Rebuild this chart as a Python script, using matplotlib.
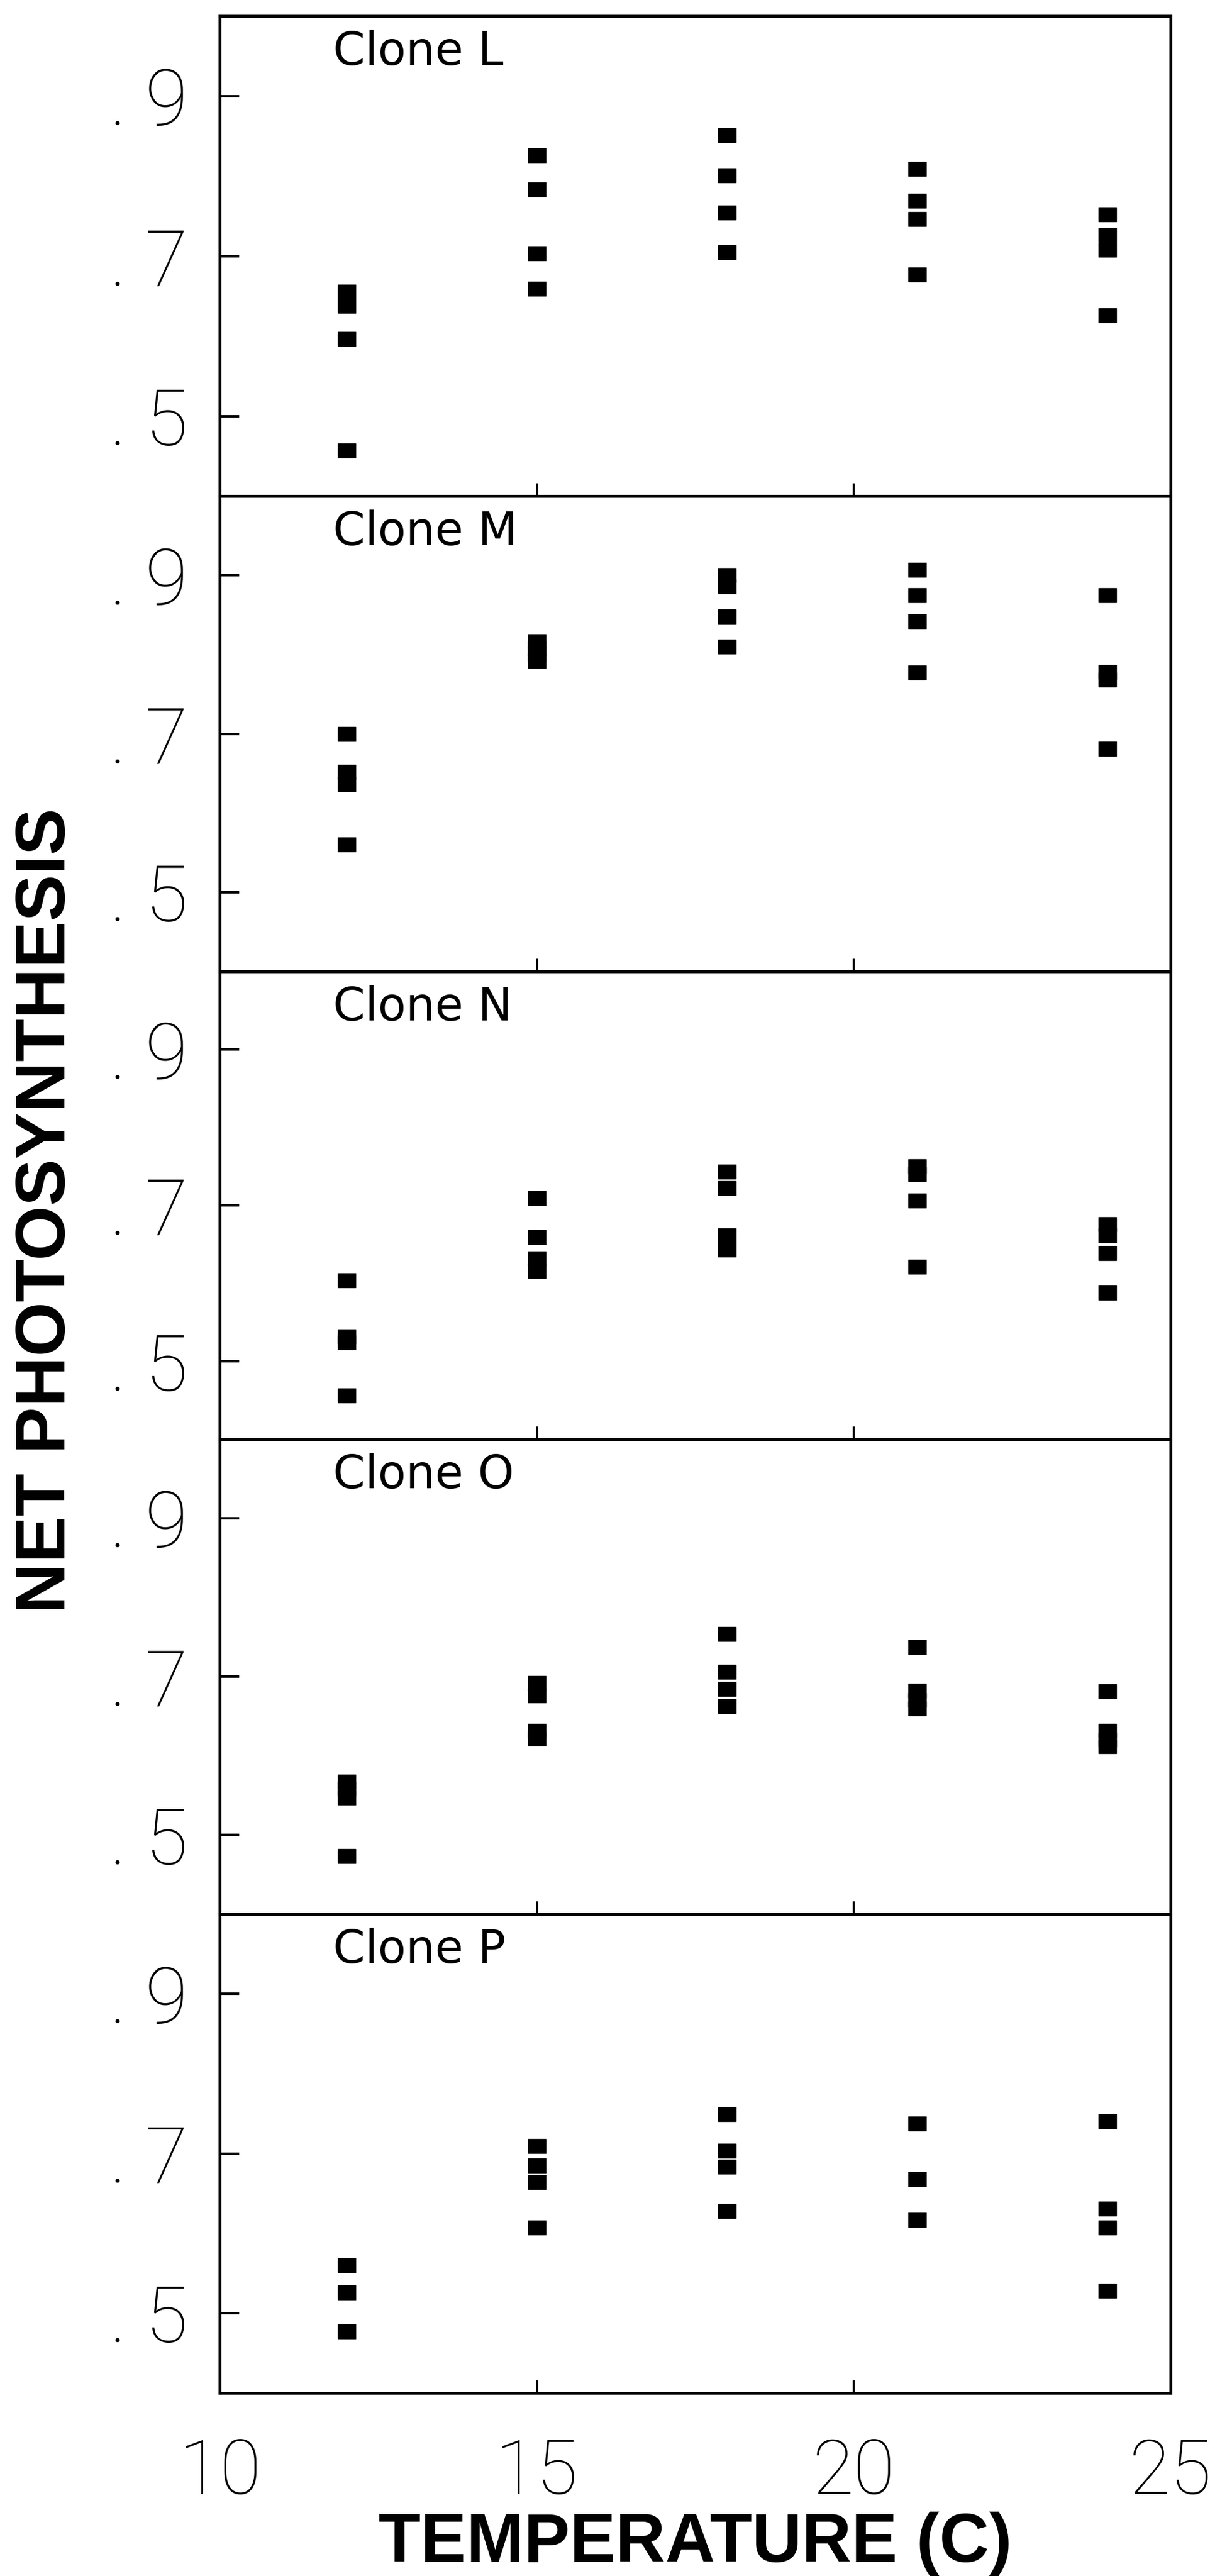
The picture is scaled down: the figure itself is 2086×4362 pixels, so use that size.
import matplotlib
matplotlib.use("Agg")
import matplotlib.pyplot as plt

# temperatures (C) at which each clone was measured
temps = [12, 15, 18, 21, 24]
clone_names = ["Clone L", "Clone M", "Clone N", "Clone O", "Clone P"]

# net photosynthesis replicates, one list per temperature
clone_L = [[0.655, 0.638, 0.596, 0.457],
           [0.826, 0.783, 0.703, 0.659],
           [0.851, 0.801, 0.754, 0.705],
           [0.809, 0.769, 0.746, 0.677],
           [0.752, 0.726, 0.708, 0.626]]
clone_M = [[0.700, 0.652, 0.636, 0.560],
           [0.817, 0.808, 0.800, 0.792],
           [0.900, 0.886, 0.848, 0.810],
           [0.907, 0.875, 0.842, 0.777],
           [0.875, 0.778, 0.768, 0.681]]
clone_N = [[0.604, 0.532, 0.524, 0.456],
           [0.709, 0.659, 0.632, 0.616],
           [0.743, 0.722, 0.661, 0.643],
           [0.750, 0.740, 0.706, 0.621],
           [0.676, 0.661, 0.639, 0.588]]
clone_O = [[0.567, 0.558, 0.547, 0.473],
           [0.692, 0.676, 0.631, 0.622],
           [0.754, 0.706, 0.684, 0.663],
           [0.737, 0.682, 0.670, 0.660],
           [0.681, 0.631, 0.620, 0.612]]
clone_P = [[0.560, 0.526, 0.477],
           [0.709, 0.685, 0.664, 0.607],
           [0.749, 0.703, 0.683, 0.628],
           [0.737, 0.668, 0.617],
           [0.740, 0.631, 0.607, 0.528]]
clones = [clone_L, clone_M, clone_N, clone_O, clone_P]

x_ticks = [10, 15, 20, 25]
y_ticks = [0.5, 0.7, 0.9]
y_ticklabels = [". 5", ". 7", ". 9"]

W, H = 2086, 4362
fig = plt.figure(figsize=(W / 100, H / 100), dpi=100)

# panel edges in pixels (from top)
left, right = 372, 1982
edges = [27, 840, 1645, 2437, 3241, 4052]

thin = dict(family=["Roboto", "DejaVu Sans"], weight=100)
rect = [(-1.3, -1), (1.3, -1), (1.3, 1), (-1.3, 1), (-1.3, -1)]

axes = []
for i, (name, data) in enumerate(zip(clone_names, clones)):
    top, bot = edges[i], edges[i + 1]
    ax = fig.add_axes([left / W, 1 - bot / H, (right - left) / W, (bot - top) / H])
    for t, vals in zip(temps, data):
        ax.plot([t] * len(vals), vals, linestyle="none", marker=rect,
                markersize=22, color="black")
    ax.set_xlim(10, 25)
    ax.set_ylim(0.4, 1.0)
    ax.set_xticks([15, 20])
    ax.set_yticks(y_ticks)
    ax.set_yticklabels(y_ticklabels, fontsize=95, **thin)
    ax.tick_params(axis="y", direction="in", length=24, width=3, pad=39)
    ax.tick_params(axis="x", direction="in", length=16, width=2.5, labelbottom=False)
    for s in ax.spines.values():
        s.set_linewidth(3.5)
    # label baseline ~83 px below the panel top
    ax.text(0.119, 1 - 83 / (bot - top), name, transform=ax.transAxes,
            ha="left", va="baseline", fontsize=56, family="DejaVu Sans")
    axes.append(ax)

# x tick labels on the bottom panel
ax = axes[-1]
ax.set_xticks(x_ticks)
ax.set_xticklabels([str(v) for v in x_ticks], fontsize=92, **thin)
ax.tick_params(axis="x", labelbottom=True, pad=54)
for tk in ax.xaxis.get_major_ticks():
    if tk.get_loc() in (10, 25):
        tk.tick1line.set_visible(False)

fig.text(80 / W, 1 - 2050 / H, "NET PHOTOSYNTHESIS", rotation=90,
         ha="center", va="center", fontsize=85.5, weight="bold",
         family="Liberation Sans")
fig.text(1177 / W, 1 - 4308 / H, "TEMPERATURE (C)", ha="center", va="center",
         fontsize=84, weight="bold", family=["Liberation Sans Narrow", "Liberation Sans"])

fig.savefig("out.png", dpi=100, facecolor="white")
